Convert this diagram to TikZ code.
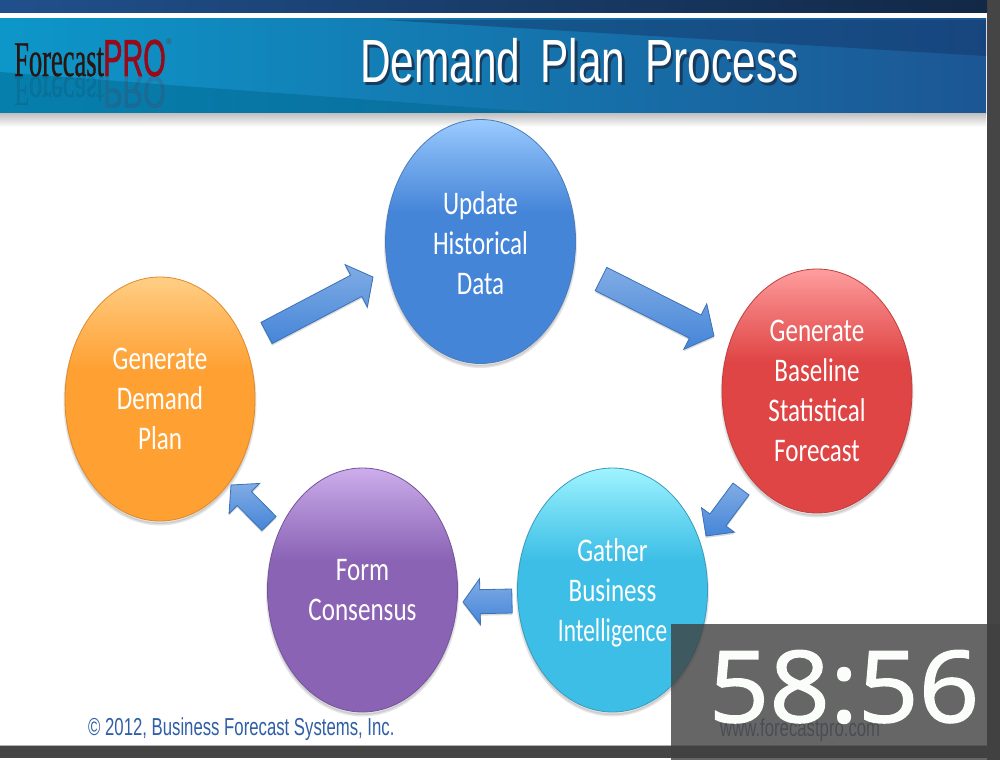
\documentclass[tikz,border=0pt]{standalone}
\usepackage{fontspec}
\usetikzlibrary{shapes.geometric,calc}
\setmainfont{Liberation Sans}
\newfontfamily\labelf[FakeStretch=0.76]{Carlito}
\newfontfamily\titlef[FakeStretch=0.695,WordSpace=1.7]{Liberation Sans}
\newfontfamily\smallf[FakeStretch=0.683]{Liberation Sans}
\newfontfamily\logof[FakeStretch=0.53,FakeBold=0.6]{Liberation Serif}
\newfontfamily\logob[FakeStretch=0.555,FakeBold=1.2]{Liberation Sans}
\newfontfamily\timerf[FakeStretch=1.07,FakeBold=1.6]{Open Sans}
\definecolor{bluetop}{HTML}{9CCBFF}\definecolor{bluemain}{HTML}{4585D8}\definecolor{bluerim}{HTML}{4A7CBC}
\definecolor{orangetop}{HTML}{FFCF85}\definecolor{orangemain}{HTML}{FFA033}\definecolor{orangerim}{HTML}{DE8A2B}
\definecolor{redtop}{HTML}{FF9E9E}\definecolor{redmain}{HTML}{E04545}\definecolor{redrim}{HTML}{C04040}
\definecolor{cyantop}{HTML}{A0F4FF}\definecolor{cyanmain}{HTML}{3CBEE6}\definecolor{cyanrim}{HTML}{3A9CBC}
\definecolor{purpletop}{HTML}{CDAEEC}\definecolor{purplemain}{HTML}{8A63B5}\definecolor{purplerim}{HTML}{75549C}
\definecolor{barL}{HTML}{20508C}\definecolor{barR}{HTML}{122846}
\definecolor{bandL}{HTML}{0D97C9}\definecolor{bandR}{HTML}{1C5694}
\definecolor{wedgeA}{HTML}{143264}\definecolor{wedgeB}{HTML}{006991}
\definecolor{logoK}{HTML}{2A1510}\definecolor{logoP}{HTML}{960A1A}
\definecolor{titleK}{HTML}{183A5C}\definecolor{copyC}{HTML}{2F5FA5}\definecolor{webC}{HTML}{2F5082}
\definecolor{timerC}{HTML}{FBFDFA}
\newcommand{\orbshade}[1]{\pgfdeclareverticalshading{#1orb}{100bp}{color(0bp)=(#1main); color(25bp)=(#1main); color(56bp)=(#1main); color(67bp)=(#1top!55!#1main); color(75bp)=(#1top); color(100bp)=(#1top)}}
\orbshade{blue}\orbshade{orange}\orbshade{red}\orbshade{cyan}\orbshade{purple}
\tikzset{
  orb/.style={ellipse,inner sep=0pt,minimum width=190pt,minimum height=244pt,align=center,text=white,
    font={\labelf\fontsize{33}{40}\selectfont},shading=#1orb,draw=#1rim,line width=0.8pt,
    preaction={fill=black,fill opacity=.10,draw=black,draw opacity=.10,line width=3pt,transform canvas={yshift=-3pt}}},
  arrowshape/.style={draw=bluemain!85!black,line width=.8pt,top color=bluemain!68!white,bottom color=bluemain,
    preaction={fill=black,fill opacity=.15,transform canvas={yshift=-2pt}}},
  titletext/.style={font={\titlef\fontsize{61}{61}\selectfont},anchor=base west,inner sep=0pt},
  smalltext/.style={font={\smallf\fontsize{24.5}{26}\selectfont},anchor=base west,inner sep=0pt,text=#1},
}
\newcommand{\blockarrow}[5]{%
  \coordinate (ab) at ($(#2)!#5!(#1)$);
  \path[arrowshape] ($(#1)!#3!90:(#2)$) -- ($(ab)!#3!90:(#2)$) -- ($(ab)!#4!90:(#2)$) -- (#2)
    -- ($(ab)!#4!-90:(#2)$) -- ($(ab)!#3!-90:(#2)$) -- ($(#1)!#3!-90:(#2)$) -- cycle;}
\begin{document}
\begin{tikzpicture}[x=1pt,y=-1pt]
\useasboundingbox (0,0) rectangle (1000,760);
% frame
\fill[white] (0,0) rectangle (1000,760);
\fill[black!73] (987,0) rectangle (1000,760);
\fill[black!73] (0,746) rectangle (1000,758);
\fill[black!30] (0,744.5) rectangle (987,746);
% top bar
\shade[left color=barL,right color=barR] (0,0) rectangle (987,13);
% header band
\shade[left color=bandL,right color=bandR] (0,19) rectangle (986,113);
\fill[wedgeA,opacity=.45] (385,20) -- (986,20) -- (986,56) -- cycle;
\fill[wedgeB,opacity=.5] (0,72) -- (170,85) -- (480,108) -- (560,113) -- (0,113) -- cycle;
\shade[top color=black!25,bottom color=white] (0,113) rectangle (986,127);
% logo
\node[anchor=base west,inner sep=0pt,text=logoK,opacity=.10,yscale=-.85,font={\logof\fontsize{50}{50}\selectfont}] (logoAref) at (14,77) {Forecast};
\node[anchor=base west,inner sep=0pt,text=logoP,opacity=.12,yscale=-.85,font={\logob\fontsize{52}{52}\selectfont}] (logoBref) at (103,77) {PRO};
\node[anchor=base west,inner sep=0pt,text=logoK,font={\logof\fontsize{50}{50}\selectfont}] (logoA) at (14,76) {Forecast};
\node[anchor=base west,inner sep=0pt,text=logoP,font={\logob\fontsize{52}{52}\selectfont}] (logoB) at (103,76) {PRO};
\node[anchor=center,inner sep=0pt,text=black!70,font={\fontsize{8}{8}\selectfont}] (logoR) at (169,42) {®};
% title
\node[titletext,text=titleK] (titleS) at (362.5,85) {Demand Plan Process};
\node[titletext,text=white] (title) at (360,82) {Demand Plan Process};
% circles
\node[orb=blue] (upd) at (480.5,241.5) {\rule{0pt}{27pt}Update\\Historical\\Data};
\node[orb=orange] (plan) at (160,399) {Generate\\Demand\\Plan};
\node[orb=red] (base) at (817,391) {Generate\\Baseline\\Statistical\\Forecast};
\node[orb=cyan] (gather) at (612.5,590) {\rule{0pt}{29pt}Gather\\Business\\\scalebox{.93}[1]{Intelligence}};
\node[orb=purple] (form) at (362.5,590) {Form\\Consensus};
% arrows
\coordinate (a1s) at (266.5,333); \coordinate (a1e) at (373,277);
\coordinate (a2s) at (601,279); \coordinate (a2e) at (714,336);
\coordinate (a3s) at (741,489); \coordinate (a3e) at (706,536);
\coordinate (a4s) at (512,601); \coordinate (a4e) at (463,602);
\coordinate (a5s) at (269,523.5); \coordinate (a5e) at (231,485);
\blockarrow{a1s}{a1e}{12pt}{24pt}{19pt}
\blockarrow{a2s}{a2e}{13pt}{25.5pt}{21pt}
\blockarrow{a3s}{a3e}{10pt}{20.5pt}{20pt}
\blockarrow{a4s}{a4e}{12pt}{23pt}{17pt}
\blockarrow{a5s}{a5e}{10pt}{21.5pt}{19pt}
% footer
\node[smalltext=copyC] (copy) at (88,735) {© 2012, Business Forecast Systems, Inc.};
\node[smalltext=webC,opacity=.7] (web) at (720,736) {www.forecastpro.com};
% timer
\fill[black!75,opacity=.8] (671,624) rectangle (1000,760);
\node[anchor=base,inner sep=0pt,text=timerC,font={\timerf\fontsize{99}{99}\selectfont}] (timer) at (844,722) {58:56};
\end{tikzpicture}
\end{document}
